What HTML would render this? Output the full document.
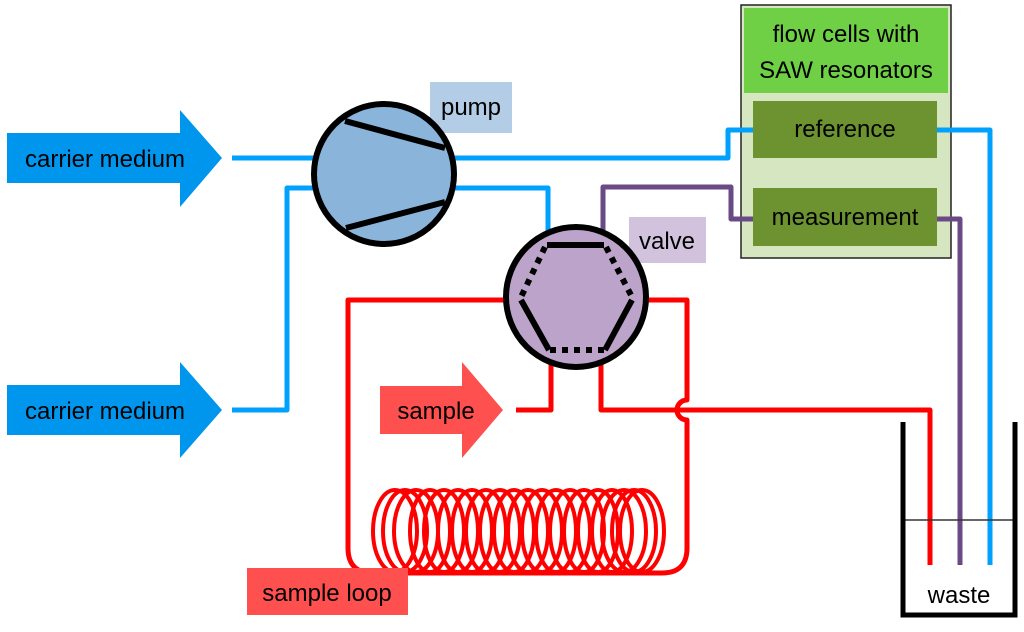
<!DOCTYPE html>
<html><head><meta charset="utf-8"><style>html,body{margin:0;padding:0;background:#fff}</style></head>
<body>
<svg width="1024" height="627" viewBox="0 0 1024 627" xmlns="http://www.w3.org/2000/svg" font-family="Liberation Sans, sans-serif">
<!-- arrows -->
<polygon points="7,133 180,133 180,110 222,158 180,207 180,183 7,183" fill="#0096ee"/>
<text x="105" y="167" font-size="24" text-anchor="middle" fill="#000">carrier medium</text>
<polygon points="7,385 180,385 180,362 222,410 180,458 180,435 7,435" fill="#0096ee"/>
<text x="105" y="419" font-size="24" text-anchor="middle" fill="#000">carrier medium</text>
<polygon points="380,386 462,386 462,362 503,410 462,458 462,434 380,434" fill="#ff5050"/>
<text x="436" y="419" font-size="24" text-anchor="middle" fill="#000">sample</text>

<!-- flow box -->
<rect x="741" y="5" width="210" height="253" fill="#d6e6c0" stroke="#222" stroke-width="1.5"/>
<rect x="744" y="8" width="204" height="85" fill="#6fcf45"/>
<text x="846" y="42" font-size="24" text-anchor="middle">flow cells with</text>
<text x="846" y="78" font-size="24" text-anchor="middle">SAW resonators</text>
<rect x="753" y="101" width="184" height="57" fill="#6c9330"/>
<text x="845" y="137" font-size="24" text-anchor="middle">reference</text>
<rect x="753" y="188" width="184" height="58" fill="#6c9330"/>
<text x="845" y="225" font-size="24" text-anchor="middle">measurement</text>

<g fill="none" stroke-width="5" stroke-linejoin="round">
<!-- blue -->
<polyline points="232,158 728,158 728,130 753,130" stroke="#00a0ff"/>
<polyline points="937,130 990,130 990,565" stroke="#00a0ff"/>
<polyline points="232,410 287,410 287,188 548,188 548,235" stroke="#00a0ff"/>
<!-- purple -->
<polyline points="603,232 603,187 731,187 731,219 753,219" stroke="#6a4a85"/>
<polyline points="937,219 960,219 960,565" stroke="#6a4a85"/>
<!-- red -->
<path d="M505,300 H348 V548 Q348,573 373,573 H662 Q687,573 687,548 V420 A10,10 0 0 1 687,400 V300 H645" stroke="#ff0000"/>
<polyline points="516,410 551,410 551,362" stroke="#ff0000"/>
<polyline points="601,362 601,410 930,410 930,565" stroke="#ff0000"/>
</g>

<!-- coil -->
<g fill="none" stroke="#ff0000" stroke-width="4">
<ellipse cx="395" cy="531" rx="22" ry="41"/>
<ellipse cx="405" cy="531" rx="22" ry="41"/>
<ellipse cx="416" cy="531" rx="22" ry="41"/>
<ellipse cx="430" cy="531" rx="20" ry="41"/>
<ellipse cx="444" cy="531" rx="20" ry="41"/>
<ellipse cx="458" cy="531" rx="20" ry="41"/>
<ellipse cx="472" cy="531" rx="20" ry="41"/>
<ellipse cx="486" cy="531" rx="20" ry="41"/>
<ellipse cx="500" cy="531" rx="20" ry="41"/>
<ellipse cx="514" cy="531" rx="20" ry="41"/>
<ellipse cx="528" cy="531" rx="20" ry="41"/>
<ellipse cx="542" cy="531" rx="20" ry="41"/>
<ellipse cx="556" cy="531" rx="20" ry="41"/>
<ellipse cx="570" cy="531" rx="20" ry="41"/>
<ellipse cx="584" cy="531" rx="20" ry="41"/>
<ellipse cx="598" cy="531" rx="20" ry="41"/>
<ellipse cx="612" cy="531" rx="20" ry="41"/>
<ellipse cx="624" cy="531" rx="22" ry="41"/>
<ellipse cx="634" cy="531" rx="22" ry="41"/>
<ellipse cx="642" cy="531" rx="22" ry="41"/>
</g>
<rect x="247" y="568" width="161" height="47" fill="#ff5050"/>
<text x="327" y="601" font-size="24" text-anchor="middle">sample loop</text>

<!-- pump -->
<rect x="430" y="82" width="82" height="51" fill="#b4cde6"/>
<text x="471" y="115" font-size="24" text-anchor="middle">pump</text>
<circle cx="384" cy="174" r="70" fill="#8ab4d9" stroke="#000" stroke-width="6"/>
<line x1="345" y1="121" x2="445" y2="148" stroke="#000" stroke-width="6"/>
<line x1="346" y1="228" x2="445" y2="202" stroke="#000" stroke-width="6"/>

<!-- valve -->
<rect x="629" y="217" width="77" height="46" fill="#d2c2dd"/>
<text x="667" y="249" font-size="24" text-anchor="middle">valve</text>
<circle cx="576" cy="297" r="70" fill="#bca3c9" stroke="#000" stroke-width="6"/>
<g stroke="#000" stroke-width="6">
<line x1="547" y1="245" x2="604" y2="245"/>
<line x1="521" y1="300" x2="549" y2="350"/>
<line x1="632" y1="300" x2="605" y2="350"/>
<g stroke-dasharray="6,6">
<line x1="545" y1="247" x2="521" y2="297"/>
<line x1="606" y1="247" x2="632" y2="297"/>
<line x1="550" y1="350" x2="604" y2="350"/>
</g>
</g>

<!-- waste -->
<line x1="903" y1="520" x2="1015" y2="520" stroke="#333" stroke-width="1.5"/>
<polyline points="903,422 903,615 1015,615 1015,422" fill="none" stroke="#000" stroke-width="5"/>
<text x="959" y="603" font-size="24" text-anchor="middle">waste</text>
</svg>
</body></html>
